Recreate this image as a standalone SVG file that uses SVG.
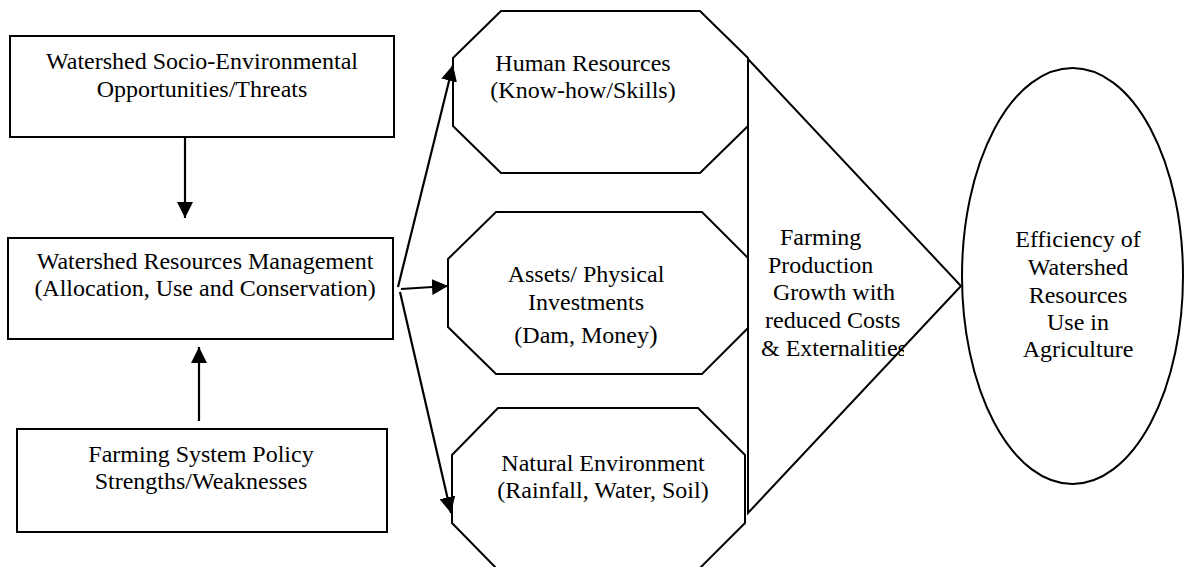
<svg xmlns="http://www.w3.org/2000/svg" width="1185" height="567" viewBox="0 0 1185 567">
  <style>
    .box { fill: #ffffff; stroke: #000000; stroke-width: 2; }
    .shape { fill: #ffffff; stroke: #000000; stroke-width: 2; stroke-linejoin: miter; }
    .label { font-family: "Liberation Serif", "Times New Roman", serif; font-size: 24px; fill: #000000; }
    .mid { text-anchor: middle; }
    .link { fill: none; stroke: #000000; stroke-width: 2.2; marker-end: url(#head); }
  </style>
  <defs>
    <marker id="head" markerUnits="userSpaceOnUse" markerWidth="16" markerHeight="16" refX="16" refY="8" orient="auto" viewBox="0 0 16 16">
      <path d="M0,0 L16,8 L0,16 z" fill="#000000"/>
    </marker>
    <clipPath id="triClip">
      <rect x="740" y="40" width="164" height="480"/>
    </clipPath>
  </defs>

  <rect width="1185" height="567" fill="#ffffff"/>

  <!-- left column: context boxes -->
  <g id="opportunities">
    <rect class="box" x="10" y="36" width="384" height="101"/>
    <text class="label mid" x="202" y="69">Watershed Socio-Environmental</text>
    <text class="label mid" x="202" y="97">Opportunities/Threats</text>
  </g>

  <g id="management">
    <rect class="box" x="8" y="238" width="385" height="101"/>
    <text class="label mid" x="205" y="269">Watershed Resources Management</text>
    <text class="label mid" x="205" y="296">(Allocation, Use and Conservation)</text>
  </g>

  <g id="policy">
    <rect class="box" x="17" y="429" width="370" height="103"/>
    <text class="label mid" x="201" y="462">Farming System Policy</text>
    <text class="label mid" x="201" y="489">Strengths/Weaknesses</text>
  </g>

  <!-- middle column: resource octagons -->
  <g id="human">
    <polygon class="shape" points="501,11 700,11 748,58 748,126 700,173 501,173 453,126 453,58"/>
    <text class="label mid" x="583" y="71">Human Resources</text>
    <text class="label mid" x="583" y="98">(Know-how/Skills)</text>
  </g>

  <g id="assets">
    <polygon class="shape" points="496,212 702,212 749,259 749,327 702,374 496,374 448,327 448,259"/>
    <text class="label mid" x="586" y="282">Assets/ Physical</text>
    <text class="label mid" x="586" y="310">Investments</text>
    <text class="label mid" x="586" y="343">(Dam, Money<tspan font-size="26">)</tspan></text>
  </g>

  <g id="natural">
    <polygon class="shape" points="498,408 698,408 745,455 745,523 698,570 498,570 452,523 452,455"/>
    <text class="label mid" x="603" y="471">Natural Environment</text>
    <text class="label mid" x="603" y="498">(Rainfall, Water, Soil)</text>
  </g>

  <!-- growth triangle -->
  <g id="growth">
    <polygon class="shape" points="748,59 961,286 748,513"/>
    <g clip-path="url(#triClip)">
      <text class="label" x="780" y="245">Farming</text>
      <text class="label" x="768" y="273">Production</text>
      <text class="label" x="773" y="300">Growth with</text>
      <text class="label" x="765" y="328">reduced Costs</text>
      <text class="label" x="761" y="356">&amp; Externalities</text>
    </g>
  </g>

  <!-- outcome ellipse -->
  <g id="efficiency">
    <ellipse class="shape" cx="1072.5" cy="276" rx="110.5" ry="208"/>
    <text class="label mid" x="1078" y="247">Efficiency of</text>
    <text class="label mid" x="1078" y="275">Watershed</text>
    <text class="label mid" x="1078" y="303">Resources</text>
    <text class="label mid" x="1078" y="330">Use in</text>
    <text class="label mid" x="1078" y="357">Agriculture</text>
  </g>

  <!-- connectors -->
  <g id="connectors">
    <line class="link" x1="185" y1="137" x2="185" y2="218"/>
    <line class="link" x1="199" y1="421" x2="199" y2="347"/>
    <line class="link" x1="398" y1="287" x2="453" y2="65"/>
    <line class="link" x1="401" y1="289" x2="448" y2="286"/>
    <line class="link" x1="400" y1="292" x2="451" y2="513"/>
  </g>
</svg>
